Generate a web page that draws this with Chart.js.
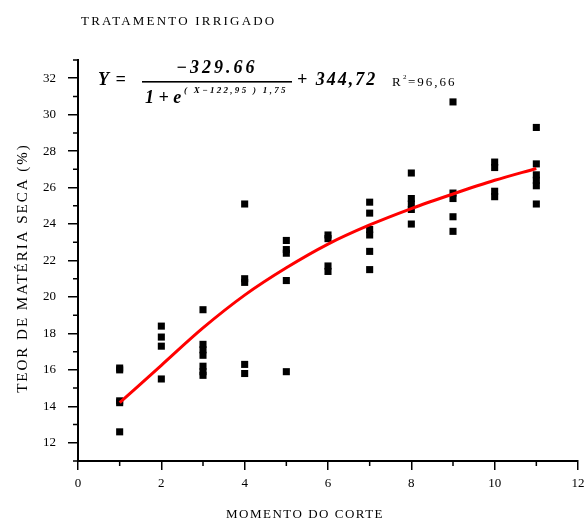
<!DOCTYPE html>
<html>
<head>
<meta charset="utf-8">
<script src="https://cdn.jsdelivr.net/npm/chart.js@4/dist/chart.umd.min.js"></script>
<style>
  html, body { margin: 0; padding: 0; background: #fff; }
  #wrap { width: 586px; height: 525px; position: relative; }
</style>
</head>
<body>
<div id="wrap"><canvas id="grafico"></canvas></div>
<script>
// dados
const momentoCorte = [1, 2, 3, 4, 5, 6, 7, 8, 9, 10, 11];
const teorObservado = [
  [16.1, 16.0, 14.3, 14.2, 12.6],
  [18.4, 17.8, 17.3, 15.5],
  [19.3, 17.4, 17.1, 16.8, 16.2, 15.9, 15.7],
  [25.1, 21.0, 20.8, 16.3, 15.8],
  [23.1, 22.6, 22.4, 20.9, 15.9],
  [23.4, 23.2, 21.7, 21.4],
  [25.2, 24.6, 23.7, 23.4, 22.5, 21.5],
  [26.8, 25.4, 25.1, 24.8, 24.0],
  [30.7, 25.7, 25.4, 24.4, 23.6],
  [27.4, 27.1, 25.8, 25.5],
  [29.3, 27.3, 26.7, 26.4, 26.1, 25.1]
];
const curvaAjustada = [14.2, 16.25, 18.3, 20.1, 21.6, 22.9, 23.95, 24.85, 25.65, 26.4, 27.05];
const ticksX = [0, 2, 4, 6, 8, 10, 12];
const ticksY = [12, 14, 16, 18, 20, 22, 24, 26, 28, 30, 32];

const pontos = [];
momentoCorte.forEach((x, i) => {
  teorObservado[i].forEach(y => pontos.push({ x: x, y: y }));
});
const curva = momentoCorte.map((x, i) => ({ x: x, y: curvaAjustada[i] }));

const serif = '"Liberation Serif", "DejaVu Serif", serif';

const espaco = (ctx, px) => { if ('letterSpacing' in ctx) ctx.letterSpacing = px + 'px'; };

// marcas secundárias dos eixos (ímpares)
const marcasMenores = {
  id: 'marcasMenores',
  afterDraw(chart) {
    const ctx = chart.ctx;
    const sx = chart.scales.x, sy = chart.scales.y;
    ctx.save();
    ctx.strokeStyle = '#000';
    ctx.lineWidth = 1.5;
    ctx.beginPath();
    for (let v = sx.min + 1; v < sx.max; v += 2) {
      const px = sx.getPixelForValue(v);
      ctx.moveTo(px, sy.bottom);
      ctx.lineTo(px, sy.bottom + 5);
    }
    for (let v = sy.min; v <= sy.max; v += 2) {
      const py = sy.getPixelForValue(v);
      ctx.moveTo(sx.left, py);
      ctx.lineTo(sx.left - 5, py);
    }
    ctx.stroke();
    ctx.restore();
  }
};

// título, rótulos dos eixos e equação
const textos = {
  id: 'textos',
  afterDraw(chart) {
    const ctx = chart.ctx;
    ctx.save();
    ctx.fillStyle = '#000';
    ctx.textBaseline = 'middle';

    ctx.font = '13px ' + serif;
    ctx.textAlign = 'left';
    espaco(ctx, 2.2);
    ctx.fillText('TRATAMENTO IRRIGADO', 81, 22);
    espaco(ctx, 1.5);
    ctx.fillText('MOMENTO DO CORTE', 226, 515);
    ctx.save();
    ctx.translate(23, 268);
    ctx.rotate(-Math.PI / 2);
    ctx.font = '15px ' + serif;
    ctx.textAlign = 'center';
    espaco(ctx, 2);
    ctx.fillText('TEOR DE MATÉRIA SECA (%)', 0, 0);
    ctx.restore();

    // equação
    ctx.textAlign = 'left';
    ctx.font = 'italic bold 18px ' + serif;
    espaco(ctx, 1);
    ctx.fillText('Y =', 98, 80);
    espaco(ctx, 3);
    ctx.fillText('\u2212329.66', 176, 68);
    ctx.fillRect(142, 81, 150, 1.6);
    espaco(ctx, 0);
    ctx.fillText('1 + e', 145, 98);
    ctx.font = 'italic bold 9px ' + serif;
    espaco(ctx, 2.3);
    ctx.fillText('( X\u2212122,95 ) 1,75', 184, 91);
    ctx.font = 'italic bold 18px ' + serif;
    espaco(ctx, 2);
    ctx.fillText('+ 344,72', 297, 80);
    ctx.font = '13px ' + serif;
    espaco(ctx, 2);
    ctx.fillText('R', 392, 83);
    ctx.font = '7px ' + serif;
    espaco(ctx, 0);
    ctx.fillText('2', 403, 77);
    ctx.font = '13px ' + serif;
    espaco(ctx, 2);
    ctx.fillText('=96,66', 408, 83);
    ctx.restore();
  }
};

new Chart(document.getElementById('grafico'), {
  type: 'scatter',
  data: {
    datasets: [
      {
        label: 'Ajuste',
        type: 'line',
        data: curva,
        borderColor: '#ff0000',
        borderWidth: 3,
        pointRadius: 0,
        cubicInterpolationMode: 'monotone',
        fill: false
      },
      {
        label: 'Observado',
        data: pontos,
        backgroundColor: '#000',
        borderWidth: 0,
        pointStyle: 'rect',
        pointRadius: 5
      }
    ]
  },
  options: {
    responsive: true,
    maintainAspectRatio: false,
    animation: false,
    layout: { padding: { top: 60, right: 8, left: 0, bottom: 0 } },
    plugins: {
      legend: { display: false },
      tooltip: { enabled: false }
    },
    scales: {
      x: {
        type: 'linear',
        min: 0,
        max: 12,
        afterFit: s => { s.height = 64; s.paddingRight = 0; s.paddingLeft = 0; },
        ticks: {
          stepSize: 2,
          autoSkip: false,
          maxRotation: 0,
          color: '#000',
          font: { family: serif, size: 13 },
          padding: 6,
          callback: v => ticksX.includes(v) ? v : ''
        },
        grid: { drawOnChartArea: false, color: '#000', tickLength: 9, lineWidth: 1.5 },
        border: { color: '#000', width: 2 }
      },
      y: {
        min: 11,
        max: 33,
        afterFit: s => { s.width = 78; s.paddingTop = 0; s.paddingBottom = 0; },
        ticks: {
          stepSize: 1,
          autoSkip: false,
          color: '#000',
          font: { family: serif, size: 13 },
          padding: 12,
          callback: v => ticksY.includes(v) ? v : ''
        },
        grid: {
          drawOnChartArea: false,
          tickLength: 10,
          lineWidth: 1.5,
          color: c => (c.tick && ticksY.includes(c.tick.value)) ? '#000' : 'rgba(0,0,0,0)'
        },
        border: { color: '#000', width: 2 }
      }
    }
  },
  plugins: [textos, marcasMenores]
});
</script>
</body>
</html>
